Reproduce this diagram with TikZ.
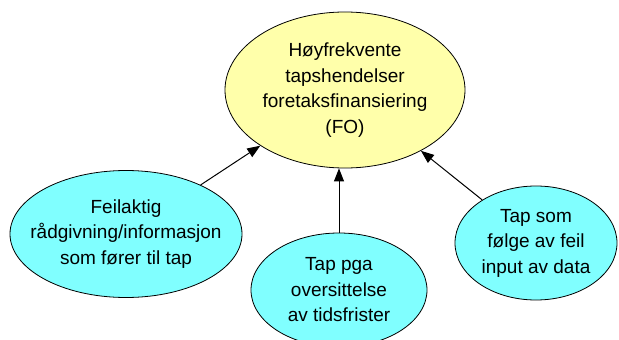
\documentclass[tikz,border=0pt]{standalone}
\usepackage{fontspec}
\setmainfont{Liberation Sans}
\usetikzlibrary{shapes.geometric,arrows.meta}
\definecolor{topfill}{RGB}{255,255,170}
\definecolor{leaffill}{RGB}{128,255,255}
\begin{document}
\begin{tikzpicture}[x=1pt,y=-1pt,
  caption/.style={align=center,inner sep=0pt,font=\fontsize{19}{25.5}\selectfont},
  bubble/.style={ellipse,draw=black,line width=0.8pt,inner sep=0pt},
  goal/.style={bubble,fill=topfill},
  cause/.style={bubble,fill=leaffill},
  link/.style={draw=black,line width=1pt,-{Triangle[length=13pt,width=10pt]}}]
\useasboundingbox (0,0) rectangle (619,340);
\node[goal,minimum width=240pt,minimum height=156pt,
  label={[caption]center:Høyfrekvente\\tapshendelser\\foretaksfinansiering\\(FO)}]
  (fo) at (345,90) {};
\node[cause,minimum width=232pt,minimum height=127pt,
  label={[caption]center:Feilaktig\\rådgivning/informasjon\\som fører til tap}]
  (feil) at (126,234) {};
\node[cause,minimum width=176pt,minimum height=114pt,
  label={[caption]center:Tap pga\\oversittelse\\av tidsfrister}]
  (frist) at (339,290) {};
\node[cause,minimum width=162pt,minimum height=114pt,
  label={[caption]center:Tap som\\følge av feil\\input av data}]
  (data) at (536,243) {};
\draw[link] (feil) -- (fo);
\draw[link] (frist.north) -- (frist.north |- fo.south);
\draw[link] (data) -- (fo);
\end{tikzpicture}
\end{document}
